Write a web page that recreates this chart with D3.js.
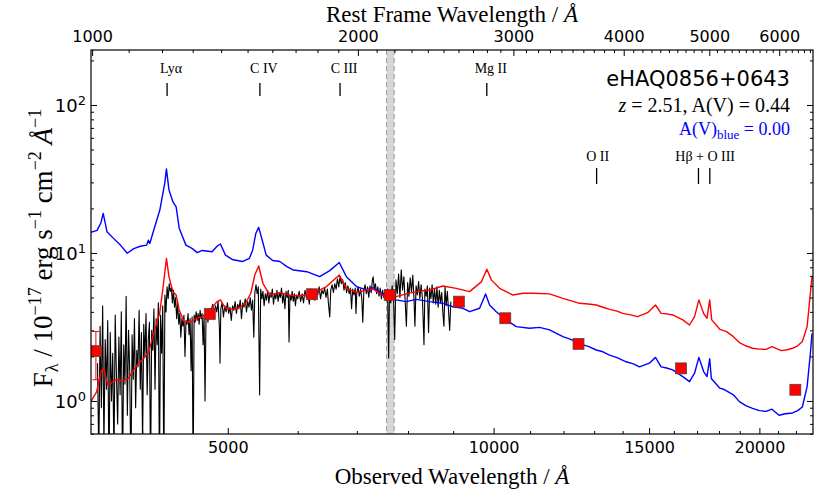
<!DOCTYPE html>
<html>
<head>
<meta charset="utf-8">
<script src="https://cdn.jsdelivr.net/npm/d3@7"></script>
<style>
	body { margin: 0; background: #fff; }
</style>
</head>
<body>
<div id="chart"></div>
<script>
const redshift = 2.51;

// tick values
const obsMajor = [5000, 10000, 15000, 20000];
const obsMinor = [4000, 6000, 7000, 8000, 9000, 11000, 12000, 13000, 14000, 16000, 17000, 18000, 19000, 21000, 22000];
const restMajor = [1000, 2000, 3000, 4000, 5000, 6000];
const fluxMajor = [1, 10, 100];

// emission line markers (rest wavelength)
const upperLines = ['Lyα', 'C IV', 'C III', 'Mg II'];
const upperRest = [1216, 1549, 1909, 2799];
const lowerLines = ['O II', 'Hβ + O III'];
const lowerRest = [[3727], [4861, 5007]];

// masked region (observed)
const band = [7565, 7715];

// quasar template, A(V) = 0 [wavelength, flux]
const blueTemplate = [
	[3499, 13.8], [3556, 14.2], [3592, 16.0], [3613, 18.5], [3636, 15.5], [3649, 13.9], [3709, 12.6], [3779, 11.3],
	[3847, 9.95], [3913, 10.7], [3980, 11.1], [4047, 11.3], [4064, 12.2], [4080, 11.6], [4117, 13.9], [4188, 19.5],
	[4242, 29.5], [4261, 37], [4289, 26.7], [4333, 22.2], [4370, 20.5], [4405, 14.7], [4483, 11.3], [4559, 10.7],
	[4618, 10.06], [4677, 10.4], [4800, 10.2], [4862, 11.1], [4905, 11.5], [4970, 9.67], [5058, 9.04], [5194, 8.75],
	[5290, 9.2], [5335, 10.45], [5380, 13.6], [5420, 14.9], [5470, 12.2], [5527, 9.67], [5622, 8.9], [5727, 8.75],
	[5833, 8.09], [5935, 7.67], [6144, 7.47], [6353, 6.92], [6523, 7.6], [6687, 8.62], [6812, 6.92], [6995, 5.93],
	[7181, 5.62], [7305, 5.83], [7527, 5.2], [7755, 4.82], [7960, 4.69], [8174, 4.86], [8465, 4.69], [8762, 4.57],
	[8994, 4.33], [9231, 4.23], [9394, 4.01], [9642, 4.23], [9794, 5.29], [9896, 4.45], [10070, 4.01], [10336, 3.53],
	[10609, 3.18], [10982, 3.1], [11274, 3.14], [11571, 3.02], [11981, 2.72], [12250, 2.60], [12512, 2.43], [12800, 2.34],
	[13070, 2.21], [13300, 2.15], [13531, 2.04], [13800, 1.96], [14129, 1.84], [14400, 1.78], [14627, 1.70], [15013, 1.80],
	[15252, 1.97], [15479, 1.70], [15700, 1.67], [15954, 1.62], [16378, 1.46], [16668, 1.35], [16888, 1.54], [17080, 1.97],
	[17293, 1.58], [17444, 1.46], [17569, 1.93], [17644, 1.42], [18040, 1.22], [18272, 1.19], [18689, 1.10], [18984, 0.99],
	[19300, 0.93], [19646, 0.89], [20000, 0.86], [20350, 0.85], [20665, 0.88], [21050, 0.80], [21400, 0.82], [21807, 0.83],
	[22100, 0.86], [22368, 0.91], [22650, 1.25], [22843, 2.10], [22940, 2.86]
];

// reddened template, A(V) = 0.44
const redTemplate = [
	[3499, 0.99], [3551, 1.15], [3597, 1.62], [3618, 1.66], [3657, 1.28], [3709, 1.35], [3742, 1.40], [3792, 1.36],
	[3858, 1.42], [3912, 1.62], [3963, 1.80], [4016, 1.94], [4069, 2.15], [4122, 2.86], [4186, 3.91], [4229, 6.24],
	[4261, 9.2], [4289, 6.92], [4333, 5.48], [4370, 5.2], [4405, 4.12], [4462, 3.43], [4543, 3.43], [4604, 3.62],
	[4677, 3.71], [4791, 4.23], [4862, 4.69], [4905, 4.82], [4970, 4.23], [5100, 4.16], [5238, 4.57], [5309, 5.34],
	[5365, 7.1], [5420, 8.17], [5480, 6.24], [5576, 5.2], [5727, 5.4], [5877, 5.2], [6031, 5.12], [6247, 5.34],
	[6468, 5.93], [6687, 7.1], [6812, 5.77], [6995, 5.4], [7181, 5.62], [7305, 5.7], [7527, 5.07], [7755, 5.07],
	[7960, 5.29], [8174, 5.48], [8465, 5.62], [8762, 5.98], [9074, 5.77], [9394, 5.48], [9685, 6.38], [9827, 7.77],
	[9940, 6.58], [10157, 5.77], [10516, 5.2], [10793, 5.34], [11076, 5.34], [11571, 5.29], [11981, 4.94], [12250, 4.75],
	[12512, 4.57], [12800, 4.52], [13070, 4.45], [13300, 4.30], [13531, 4.16], [13800, 4.05], [14002, 3.91], [14300, 3.82],
	[14557, 3.71], [14942, 3.95], [15252, 4.45], [15479, 3.91], [15700, 3.88], [15954, 3.81], [16378, 3.53], [16668, 3.26],
	[16888, 3.71], [17080, 4.82], [17293, 3.9], [17444, 3.62], [17569, 4.82], [17662, 3.53], [18040, 3.05], [18357, 2.94],
	[18689, 2.72], [18984, 2.48], [19300, 2.36], [19646, 2.27], [20000, 2.24], [20350, 2.23], [20665, 2.33], [21180, 2.19],
	[21500, 2.22], [21807, 2.27], [22100, 2.36], [22368, 2.52], [22650, 3.18], [22843, 5.34], [22940, 6.92]
];

// observed optical spectrum
const spectrum = [
	[3560, 1.8], [3572, 0.4], [3584, 3.2], [3596, 0.9], [3608, 4.4], [3620, 0.5], [3632, 2.6], [3644, 1.2],
	[3656, 3.5], [3668, 0.3], [3680, 2.9], [3692, 1.0], [3704, 2.1], [3716, 0.4], [3728, 3.8], [3740, 1.5],
	[3752, 0.7], [3764, 2.7], [3776, 1.1], [3788, 4.0], [3800, 0.3], [3812, 2.4], [3824, 1.3], [3836, 5.1],
	[3848, 0.8], [3860, 3.0], [3872, 1.6], [3884, 0.3], [3896, 2.8], [3908, 1.4], [3920, 3.6], [3932, 0.9],
	[3944, 2.2], [3956, 1.7], [3968, 4.1], [3980, 1.2], [3992, 2.9], [4004, 0.5], [4016, 3.3], [4028, 2.0],
	[4040, 3.9], [4052, 1.1], [4064, 2.6], [4076, 3.4], [4088, 0.3], [4100, 3.0], [4112, 2.2], [4124, 4.2],
	[4136, 1.2], [4148, 3.6], [4160, 2.4], [4172, 4.6], [4184, 0.3], [4196, 3.8], [4208, 2.1], [4220, 4.4],
	[4232, 0.3], [4244, 5.2], [4256, 4.0], [4268, 5.9], [4280, 4.9], [4292, 6.2], [4304, 5.5], [4316, 5.8],
	[4328, 4.6], [4340, 5.6], [4352, 4.3], [4364, 5.0], [4376, 3.6], [4388, 4.6], [4400, 3.3], [4412, 3.9],
	[4424, 2.7], [4436, 3.6], [4448, 3.2], [4460, 3.8], [4472, 2.0], [4484, 3.5], [4496, 3.3], [4508, 3.9],
	[4520, 2.8], [4532, 3.6], [4544, 1.6], [4556, 3.7], [4568, 0.3], [4580, 3.8], [4592, 3.4], [4604, 4.0],
	[4616, 3.5], [4628, 3.9], [4640, 3.3], [4652, 4.1], [4664, 3.6], [4676, 3.9], [4688, 2.4], [4700, 3.8],
	[4712, 1.0], [4724, 3.7], [4736, 4.0], [4748, 3.4], [4760, 4.2], [4772, 3.7], [4790, 4.1], [4807, 4.5],
	[4824, 3.8], [4841, 4.4], [4858, 4.0], [4875, 4.7], [4892, 3.1], [4900, 1.8], [4910, 4.2], [4927, 4.6],
	[4944, 3.7], [4961, 4.4], [4978, 4.0], [4995, 4.6], [5012, 3.9], [5029, 4.3], [5046, 3.5], [5063, 4.4],
	[5080, 4.1], [5097, 4.7], [5114, 3.9], [5131, 4.5], [5148, 4.2], [5165, 4.8], [5182, 3.6], [5199, 4.6],
	[5216, 4.3], [5233, 4.9], [5250, 4.0], [5267, 4.7], [5284, 4.3], [5301, 5.0], [5318, 4.1], [5335, 4.8],
	[5351, 2.7], [5366, 5.4], [5382, 6.1], [5398, 5.3], [5414, 5.9], [5433, 1.1], [5448, 5.7], [5464, 4.9],
	[5480, 5.5], [5497, 4.4], [5514, 5.3], [5531, 4.8], [5548, 5.6], [5565, 4.6], [5582, 5.4], [5599, 5.0],
	[5616, 5.7], [5633, 4.5], [5650, 5.3], [5667, 4.9], [5684, 5.6], [5701, 4.7], [5718, 5.4], [5735, 5.0],
	[5752, 5.8], [5769, 4.6], [5786, 5.3], [5803, 4.2], [5820, 5.5], [5837, 5.0], [5854, 5.6], [5866, 2.5],
	[5880, 5.2], [5897, 4.8], [5914, 5.5], [5931, 4.7], [5948, 5.3], [5965, 4.4], [5982, 5.2], [6000, 4.9],
	[6023, 5.5], [6046, 4.7], [6069, 5.3], [6092, 4.6], [6115, 5.6], [6138, 5.0], [6161, 5.4], [6184, 4.5],
	[6207, 5.7], [6230, 5.1], [6253, 5.5], [6276, 4.8], [6299, 5.6], [6322, 5.2], [6345, 5.9], [6368, 4.9],
	[6391, 5.6], [6414, 5.3], [6437, 5.8], [6460, 5.0], [6483, 5.7], [6500, 4.6], [6523, 3.7], [6540, 5.6],
	[6563, 6.1], [6586, 5.4], [6609, 6.2], [6632, 5.7], [6655, 6.7], [6678, 5.9], [6701, 6.9], [6724, 6.2],
	[6747, 6.6], [6770, 5.6], [6793, 6.3], [6816, 5.4], [6839, 6.0], [6862, 5.3], [6885, 5.8], [6905, 4.2],
	[6925, 5.7], [6948, 5.2], [6971, 5.8], [6985, 3.9], [7000, 5.4], [7023, 5.9], [7046, 5.1], [7069, 5.7],
	[7092, 4.9], [7110, 3.4], [7130, 5.6], [7153, 6.1], [7176, 5.3], [7199, 5.9], [7222, 5.0], [7245, 6.0],
	[7268, 5.4], [7291, 6.6], [7305, 6.9], [7325, 5.7], [7348, 6.2], [7371, 5.3], [7394, 5.9], [7417, 5.1],
	[7440, 5.8], [7463, 4.9], [7486, 5.6], [7509, 5.0], [7530, 5.5], [7557, 4.8], [7584, 5.7], [7606, 1.95],
	[7622, 5.4], [7649, 4.6], [7676, 6.0], [7703, 4.9], [7727, 2.6], [7752, 6.6], [7779, 5.3], [7806, 7.2],
	[7833, 5.0], [7860, 7.7], [7887, 5.6], [7914, 6.9], [7941, 4.7], [7966, 3.2], [7992, 6.3], [8019, 5.1],
	[8046, 6.8], [8073, 5.4], [8100, 7.1], [8127, 4.8], [8145, 3.2], [8170, 6.0], [8197, 5.2], [8224, 6.4],
	[8251, 4.9], [8278, 6.1], [8305, 5.0], [8322, 3.6], [8340, 2.4], [8360, 5.7], [8387, 5.1], [8414, 6.0],
	[8440, 2.9], [8465, 5.8], [8492, 4.9], [8519, 6.1], [8546, 4.6], [8573, 5.7], [8600, 4.5], [8627, 5.9],
	[8654, 4.3], [8681, 5.6], [8708, 4.6], [8735, 5.4], [8762, 3.9], [8785, 3.2], [8810, 5.9], [8837, 4.4],
	[8864, 5.5], [8891, 4.1], [8918, 3.0], [8945, 4.7]
];

// photometry
const photWave = [3545, 4771, 6229, 7626, 9136, 10310, 12479, 16307, 21966];
const photFlux = [2.17, 3.87, 5.26, 5.20, 4.69, 3.62, 2.43, 1.66, 1.19];
const photErr = [0.78, 0.06, 0.05, 0.05, 0.08, 0.06, 0.05, 0.09, 0.05];

// set the dimensions and margins of the graph
const margin = { top: 50, right: 17, bottom: 60, left: 91 },
	width = 830 - margin.left - margin.right,
	height = 494 - margin.top - margin.bottom;

const svg = d3
	.select('#chart')
	.append('svg')
	.attr('width', width + margin.left + margin.right)
	.attr('height', height + margin.top + margin.bottom)
	.append('g')
	.attr('transform', `translate(${margin.left},${margin.top})`);

const serif = 'Liberation Serif, serif';
const sans = 'DejaVu Sans, sans-serif';

// scales
const x = d3.scaleLog().domain([3500, 23000]).range([0, width]);
const xRest = d3
	.scaleLog()
	.domain([3500 / (1 + redshift), 23000 / (1 + redshift)])
	.range([0, width]);
const y = d3.scaleLog().domain([0.598, 235.3]).range([height, 0]);

svg.append('clipPath')
	.attr('id', 'plotClip')
	.append('rect')
	.attr('width', width)
	.attr('height', height);

const plot = svg.append('g').attr('clip-path', 'url(#plotClip)');

// masked band
plot.append('rect')
	.attr('x', x(band[0]))
	.attr('width', x(band[1]) - x(band[0]))
	.attr('y', 0)
	.attr('height', height)
	.attr('fill', '#d6d6d6');
plot.selectAll('bandEdge')
	.data(band)
	.enter()
	.append('line')
	.attr('x1', (d) => x(d))
	.attr('x2', (d) => x(d))
	.attr('y1', 0)
	.attr('y2', height)
	.attr('stroke', '#9a9a9a')
	.attr('stroke-width', 1)
	.attr('stroke-dasharray', '5,3');

const line = d3
	.line()
	.x((d) => x(d[0]))
	.y((d) => y(d[1]));

function drawSpectrum(data, color, w) {
	plot.append('path')
		.datum(data)
		.attr('fill', 'none')
		.attr('stroke', color)
		.attr('stroke-width', w)
		.attr('stroke-linejoin', 'round')
		.attr('d', line);
}

drawSpectrum(spectrum, 'black', 1.1);
drawSpectrum(blueTemplate, '#0000ff', 1.4);
drawSpectrum(redTemplate, '#ff0000', 1.4);

// photometry error bars + squares
const phot = photWave.map((w, i) => ({ w: w, f: photFlux[i], e: photErr[i] }));
const errs = plot.selectAll('photErr').data(phot).enter().append('g').attr('stroke', '#ff0000').attr('stroke-width', 1);
errs.append('line')
	.attr('x1', (d) => x(d.w))
	.attr('x2', (d) => x(d.w))
	.attr('y1', (d) => y(d.f + d.e))
	.attr('y2', (d) => y(d.f - d.e));
errs.append('line')
	.attr('x1', (d) => x(d.w) - 3.5)
	.attr('x2', (d) => x(d.w) + 3.5)
	.attr('y1', (d) => y(d.f + d.e))
	.attr('y2', (d) => y(d.f + d.e));
errs.append('line')
	.attr('x1', (d) => x(d.w) - 3.5)
	.attr('x2', (d) => x(d.w) + 3.5)
	.attr('y1', (d) => y(d.f - d.e))
	.attr('y2', (d) => y(d.f - d.e));

plot.selectAll('photPoint')
	.data(phot)
	.enter()
	.append('rect')
	.attr('x', (d) => x(d.w) - 5.5)
	.attr('y', (d) => y(d.f) - 5.5)
	.attr('width', 11)
	.attr('height', 11)
	.attr('fill', '#ff0000')
	.attr('stroke', '#444')
	.attr('stroke-width', 0.7);

// axes
function styleAxis(g) {
	g.select('.domain').remove();
	g.selectAll('line').attr('stroke', 'black').attr('stroke-width', 1);
	g.selectAll('text').attr('font-family', sans).attr('font-size', 16).attr('fill', 'black');
}

const restMinor = d3.range(1100, 6600, 100).filter((d) => d % 1000 !== 0);
const fluxMinor = [];
[0.1, 1, 10, 100].forEach((dec) => {
	for (let k = 2; k <= 9; k++) {
		const v = dec * k;
		if (v > y.domain()[0] && v < y.domain()[1]) fluxMinor.push(v);
	}
});

// bottom
svg.append('g')
	.attr('transform', `translate(0,${height})`)
	.call(d3.axisBottom(x).tickValues(obsMajor).tickFormat(d3.format('d')).tickSizeInner(-6).tickSizeOuter(0).tickPadding(8))
	.call(styleAxis);
svg.append('g')
	.attr('transform', `translate(0,${height})`)
	.call(d3.axisBottom(x).tickValues(obsMinor).tickFormat('').tickSizeInner(-3).tickSizeOuter(0))
	.call(styleAxis);

// top (rest frame)
svg.append('g')
	.call(d3.axisTop(xRest).tickValues(restMajor).tickFormat(d3.format('d')).tickSizeInner(-6).tickSizeOuter(0).tickPadding(8))
	.call(styleAxis);
svg.append('g')
	.call(d3.axisTop(xRest).tickValues(restMinor).tickFormat('').tickSizeInner(-3).tickSizeOuter(0))
	.call(styleAxis);

// left
const leftAxis = svg
	.append('g')
	.call(d3.axisLeft(y).tickValues(fluxMajor).tickSizeInner(-6).tickSizeOuter(0).tickPadding(5))
	.call(styleAxis);
leftAxis.selectAll('.tick text').each(function (d) {
	const t = d3.select(this);
	t.text('10').attr('font-size', 18).attr('dy', '0.36em');
	t.append('tspan').attr('dy', '-0.55em').attr('font-size', 13).text(Math.round(Math.log10(d)));
});
svg.append('g')
	.call(d3.axisLeft(y).tickValues(fluxMinor).tickFormat('').tickSizeInner(-3).tickSizeOuter(0))
	.call(styleAxis);

// right
svg.append('g')
	.attr('transform', `translate(${width},0)`)
	.call(d3.axisRight(y).tickValues(fluxMajor).tickFormat('').tickSizeInner(-6).tickSizeOuter(0))
	.call(styleAxis);
svg.append('g')
	.attr('transform', `translate(${width},0)`)
	.call(d3.axisRight(y).tickValues(fluxMinor).tickFormat('').tickSizeInner(-3).tickSizeOuter(0))
	.call(styleAxis);

// frame
svg.append('rect')
	.attr('width', width)
	.attr('height', height)
	.attr('fill', 'none')
	.attr('stroke', 'black')
	.attr('stroke-width', 1.2);

// axis titles
const bottomTitle = svg
	.append('text')
	.attr('x', width / 2)
	.attr('y', height + 50)
	.attr('text-anchor', 'middle')
	.attr('font-family', serif)
	.attr('font-size', 23)
	.text('Observed Wavelength / ');
bottomTitle.append('tspan').attr('font-style', 'italic').text('Å');

const topTitle = svg
	.append('text')
	.attr('x', width / 2)
	.attr('y', -28)
	.attr('text-anchor', 'middle')
	.attr('font-family', serif)
	.attr('font-size', 23)
	.text('Rest Frame Wavelength / ');
topTitle.append('tspan').attr('font-style', 'italic').text('Å');

const yTitle = svg
	.append('text')
	.attr('transform', `translate(-39,${height / 2 + 6}) rotate(-90)`)
	.attr('text-anchor', 'middle')
	.attr('font-family', serif)
	.attr('font-size', 27);
yTitle.append('tspan').text('F');
yTitle.append('tspan').attr('font-size', 18).attr('dy', 6).text('λ');
yTitle.append('tspan').attr('dy', -6).text(' / 10');
yTitle.append('tspan').attr('font-size', 18).attr('dy', -11).text('−17');
yTitle.append('tspan').attr('dy', 11).text(' erg s');
yTitle.append('tspan').attr('font-size', 18).attr('dy', -11).text('−1');
yTitle.append('tspan').attr('dy', 11).text(' cm');
yTitle.append('tspan').attr('font-size', 18).attr('dy', -11).text('−2');
yTitle.append('tspan').attr('dy', 11).attr('font-style', 'italic').text(' Å');
yTitle.append('tspan').attr('font-size', 18).attr('dy', -11).text('−1');

// emission line markers
const upper = svg
	.selectAll('upperLine')
	.data(upperLines)
	.enter()
	.append('g')
	.attr('transform', (d, i) => `translate(${xRest(upperRest[i])},0)`);
upper.append('text')
	.attr('x', 4)
	.attr('y', 23)
	.attr('text-anchor', 'middle')
	.attr('font-family', serif)
	.attr('font-size', 14)
	.text((d) => d);
upper.append('line')
	.attr('y1', 33)
	.attr('y2', 46)
	.attr('stroke', 'black')
	.attr('stroke-width', 1.3);

const lower = svg
	.selectAll('lowerLine')
	.data(lowerLines)
	.enter()
	.append('g');
lower.append('text')
	.attr('x', (d, i) => d3.mean(lowerRest[i], (r) => xRest(r)) + 1)
	.attr('y', 111)
	.attr('text-anchor', 'middle')
	.attr('font-family', serif)
	.attr('font-size', 14)
	.text((d) => d);
lower.selectAll('line')
	.data((d, i) => lowerRest[i])
	.enter()
	.append('line')
	.attr('x1', (r) => xRest(r))
	.attr('x2', (r) => xRest(r))
	.attr('y1', 118)
	.attr('y2', 134)
	.attr('stroke', 'black')
	.attr('stroke-width', 1.3);

// object info
svg.append('text')
	.attr('x', 699)
	.attr('y', 36)
	.attr('text-anchor', 'end')
	.attr('font-family', sans)
	.attr('font-size', 21)
	.text('eHAQ0856+0643');

const info = svg
	.append('text')
	.attr('x', 699)
	.attr('y', 62)
	.attr('text-anchor', 'end')
	.attr('font-family', serif)
	.attr('font-size', 20);
info.append('tspan').attr('font-style', 'italic').text('z');
info.append('tspan').text(' = 2.51, A(V) = 0.44');

const infoBlue = svg
	.append('text')
	.attr('x', 699)
	.attr('y', 85)
	.attr('text-anchor', 'end')
	.attr('font-family', serif)
	.attr('font-size', 18)
	.attr('fill', '#0000ff');
infoBlue.append('tspan').text('A(V)');
infoBlue.append('tspan').attr('font-size', 13).attr('dy', 4).text('blue');
infoBlue.append('tspan').attr('dy', -4).text(' = 0.00');
</script>
</body>
</html>
